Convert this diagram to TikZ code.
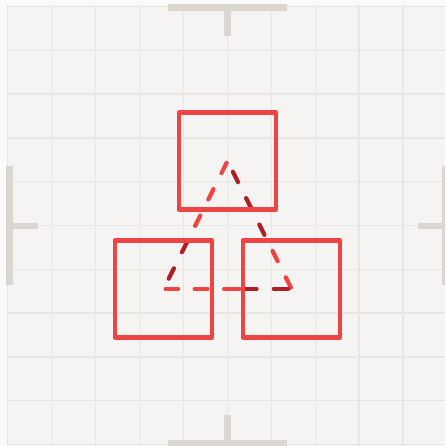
\documentclass[tikz,border=0pt]{standalone}
\usetikzlibrary{calc}
\definecolor{outerbg}{HTML}{FAFAF9}
\definecolor{panelbg}{HTML}{F5F4F2}
\definecolor{gridc}{HTML}{E9E7E4}
\definecolor{markc}{HTML}{DAD7D2}
\definecolor{redA}{HTML}{EF4444}
\definecolor{redD}{HTML}{B01E26}
\tikzset{
  sq/.style={minimum size=97pt, inner sep=0pt, outer sep=0pt},
  sqline/.style={draw=redA, line width=4.6pt, line join=round},
  dashB/.style={draw=redA, line width=4.2pt, line cap=round},
  dashD/.style={draw=redD, line width=4.2pt, line cap=round},
  gridline/.style={draw=gridc, line width=1.3pt},
  markline/.style={draw=markc, line width=6.6pt}
}
\begin{document}
\begin{tikzpicture}[x=1pt,y=-1pt]
\useasboundingbox (0,0) rectangle (445,446);
\clip (0,0) rectangle (445,446);
\fill[outerbg] (0,0) rectangle (445,446);
\fill[panelbg] (6.5,5.5) rectangle (450,450);
% grid
\foreach \k in {0,...,10} {
  \draw[gridline] ({7.5+43.95*\k},5.5) -- ({7.5+43.95*\k},450);
  \draw[gridline] (6.5,{6.5+43.8*\k}) -- (450,{6.5+43.8*\k});
}
% crosshair marks
\draw[markline] (168,7.5) -- (287,7.5);
\draw[markline] (227.5,7.5) -- (227.5,35.7);
\draw[markline] (168,443.5) -- (287,443.5);
\draw[markline] (227.5,443.5) -- (227.5,415);
\draw[markline] (9.3,166) -- (9.3,285);
\draw[markline] (9.3,225.8) -- (37.7,225.8);
\draw[markline] (445.7,166) -- (445.7,285);
\draw[markline] (445.7,225.8) -- (418.3,225.8);
% square nodes
\node[sq] (sT) at (227.5,161) {};
\node[sq] (sL) at (163.6,289) {};
\node[sq] (sR) at (291.6,289) {};
% dashed triangle between square centres
\foreach \a/\b/\c in {2/13.5/dashB,31.5/43/dashB,61/72.5/dashB,90.5/102/dashD,120/131.5/dashD}
  \draw[\c] ($(sT.center)!\a pt!(sL.center)$) -- ($(sT.center)!\b pt!(sL.center)$);
\foreach \a/\b/\c in {1.6/13.1/dashB,31.1/42.6/dashB,60.6/72.1/dashD,90.1/101.6/dashD,119.6/131.1/dashD}
  \draw[\c] ($(sR.center)!\a pt!(sT.center)$) -- ($(sR.center)!\b pt!(sT.center)$);
\foreach \a/\b/\c in {2/14.5/dashB,31/44/dashB,60.5/76/dashB,80/93/dashD,110.2/124.5/dashD}
  \draw[\c] ($(sL.center)!\a pt!(sR.center)$) -- ($(sL.center)!\b pt!(sR.center)$);
% square outlines on top
\draw[sqline] (sT.north west) rectangle (sT.south east);
\draw[sqline] (sL.north west) rectangle (sL.south east);
\draw[sqline] (sR.north west) rectangle (sR.south east);
\end{tikzpicture}
\end{document}
